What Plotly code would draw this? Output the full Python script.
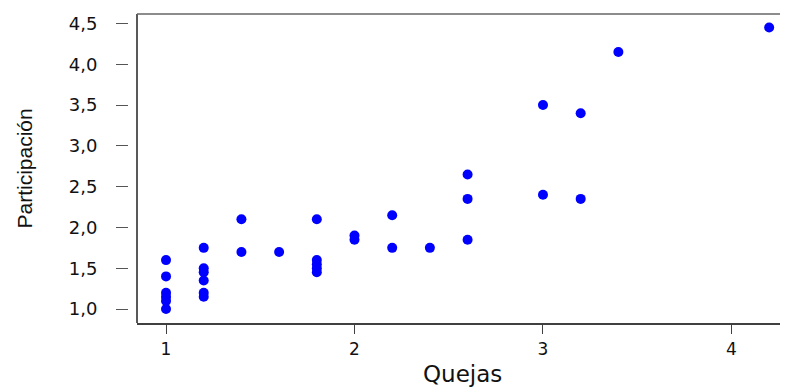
import plotly.graph_objects as go

quejas = [1, 1, 1, 1, 1, 1,
          1.2, 1.2, 1.2, 1.2, 1.2, 1.2,
          1.4, 1.4,
          1.6,
          1.8, 1.8, 1.8, 1.8, 1.8,
          2.0, 2.0,
          2.2, 2.2,
          2.4,
          2.6, 2.6, 2.6,
          3.0, 3.0,
          3.2, 3.2,
          3.4,
          4.2]
participacion = [1.6, 1.4, 1.2, 1.15, 1.1, 1.0,
                 1.75, 1.5, 1.45, 1.35, 1.2, 1.15,
                 2.1, 1.7,
                 1.7,
                 2.1, 1.6, 1.55, 1.5, 1.45,
                 1.9, 1.85,
                 2.15, 1.75,
                 1.75,
                 2.65, 2.35, 1.85,
                 3.5, 2.4,
                 3.4, 2.35,
                 4.15,
                 4.45]

x_ticks = [1, 2, 3, 4]
y_ticks = [1.0, 1.5, 2.0, 2.5, 3.0, 3.5, 4.0, 4.5]

# page body has an 8px default margin; lay out in window pixels and shift
OFF = 8
W, H = 788 - OFF, 387 - OFF
frame_left = 137 - OFF
frame_top = 14 - OFF
frame_bottom = 323 - OFF
tick_pos = 128 - OFF
L = 90
T = frame_top
B = H - frame_bottom
R = 0
pw = W - L - R
ph = H - T - B

fig = go.Figure()
fig.add_trace(go.Scatter(
    x=quejas, y=participacion, mode="markers",
    marker=dict(color="#0000FF", size=10, line=dict(width=0)),
    showlegend=False, hoverinfo="x+y"))

axis_col = "#404040"
fig.update_layout(
    width=W, height=H,
    margin=dict(l=L, r=R, t=T, b=B, autoexpand=False),
    paper_bgcolor="white", plot_bgcolor="white",
    separators=",.",
    font=dict(family="DejaVu Sans", color="#111111"),
    xaxis=dict(
        domain=[(frame_left - L) / pw, 1],
        range=[0.846, 4.30],
        automargin=False,
        tickvals=x_ticks, ticktext=[str(v) for v in x_ticks],
        ticks="outside", ticklen=9, tickwidth=1.2, tickcolor=axis_col,
        showline=True, linecolor=axis_col, linewidth=1.5,
        showgrid=False, zeroline=False,
        tickfont=dict(size=17, family="DejaVu Sans", color="#111111"),
        ticklabelstandoff=1,
    ),
    yaxis=dict(
        anchor="free", position=(tick_pos - L) / pw,
        range=[0.829, 4.616],
        automargin=False,
        tickvals=y_ticks, tickformat=".1f",
        ticks="outside", ticklen=12, tickwidth=1.2, tickcolor="#555555",
        showline=False, showgrid=False, zeroline=False,
        tickfont=dict(size=18, family="DejaVu Sans", color="#111111"),
        ticklabelstandoff=15,
    ),
    shapes=[
        dict(type="line", xref="x domain", yref="y domain", x0=0, x1=0, y0=0, y1=1,
             line=dict(color="#222222", width=1.5)),
        dict(type="line", xref="x domain", yref="y domain", x0=0, x1=1, y0=1, y1=1,
             line=dict(color="#666666", width=1.5)),
    ],
    annotations=[
        dict(text="Participación", xref="paper", yref="paper",
             x=(24 - OFF - L) / pw, y=0.5, xanchor="center", yanchor="middle",
             textangle=-90, showarrow=False,
             font=dict(size=21, family="Liberation Sans", color="#111111")),
        dict(text="Quejas", xref="paper", yref="paper",
             x=((frame_left + W) / 2 - L) / pw, y=-(374 - OFF - frame_bottom) / ph,
             xanchor="center", yanchor="middle", showarrow=False,
             font=dict(size=23, family="DejaVu Sans", color="#111111")),
    ],
)

fig.write_html("out.html")
